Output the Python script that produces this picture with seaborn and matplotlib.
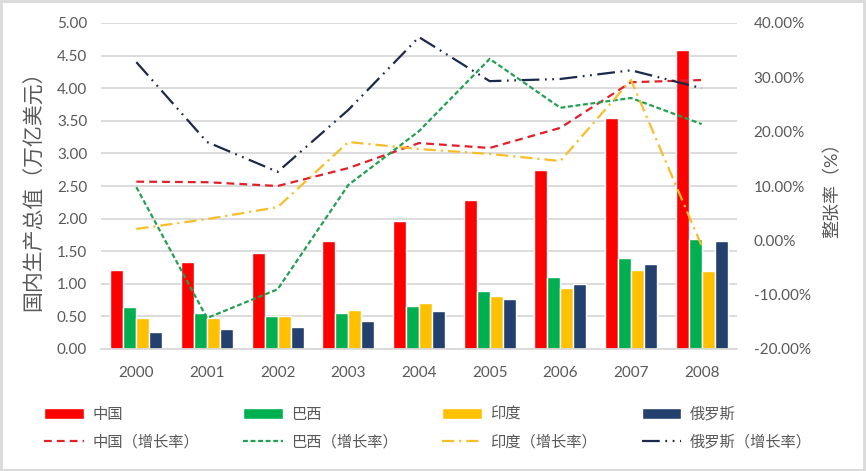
import numpy as np
import pandas as pd
import matplotlib
matplotlib.use("Agg")
import matplotlib.pyplot as plt
import seaborn as sns
from matplotlib.patches import Patch, Rectangle
from matplotlib.lines import Line2D
from matplotlib.ticker import FuncFormatter, MultipleLocator

years = ["2000", "2001", "2002", "2003", "2004", "2005", "2006", "2007", "2008"]
countries = ["中国", "巴西", "印度", "俄罗斯"]
gdp_china = [1.21, 1.34, 1.47, 1.66, 1.96, 2.29, 2.75, 3.55, 4.59]
gdp_brazil = [0.64, 0.55, 0.51, 0.55, 0.66, 0.89, 1.11, 1.40, 1.69]
gdp_india = [0.47, 0.48, 0.51, 0.60, 0.71, 0.81, 0.94, 1.21, 1.20]
gdp_russia = [0.26, 0.31, 0.34, 0.43, 0.59, 0.76, 0.99, 1.30, 1.66]
growth_china = [10.8, 10.7, 10.0, 13.3, 17.9, 17.0, 20.7, 29.1, 29.5]
growth_brazil = [9.8, -14.3, -9.0, 10.2, 20.1, 33.4, 24.4, 26.2, 21.4]
growth_india = [2.1, 3.9, 6.1, 18.1, 16.8, 15.9, 14.6, 29.5, -1.0]
growth_russia = [32.8, 18.1, 12.6, 24.0, 37.4, 29.3, 29.7, 31.3, 28.0]
growth_labels = ["中国（增长率）", "巴西（增长率）", "印度（增长率）", "俄罗斯（增长率）"]

bar_colors = ["#FF0000", "#00B050", "#FFC000", "#24406E"]
line_colors = ["#E0202A", "#22A052", "#F7BE2A", "#1B2A4A"]
line_dashes = [(0, (3.5, 2.3)), (0, (2.2, 1.2)), (0, (5.5, 2.2, 1, 2.2)),
               (0, (8, 2.5, 0.8, 2.5, 0.8, 2.5))]

gdp = [gdp_china, gdp_brazil, gdp_india, gdp_russia]
growth = [growth_china, growth_brazil, growth_india, growth_russia]

df = pd.DataFrame({
    "year": np.repeat([years], 4, axis=0).ravel(),
    "country": np.repeat(countries, len(years)),
    "value": np.concatenate(gdp),
})

sns.set_theme(style="white")
plt.rcParams["font.family"] = ["Lato", "Noto Sans CJK SC", "DejaVu Sans"]
gray = "#595959"

fig = plt.figure(figsize=(8.66, 4.71), dpi=100)
ax = fig.add_axes([101 / 866, 1 - 349 / 471, 636 / 866, 326 / 471])

sns.barplot(data=df, x="year", y="value", hue="country", hue_order=countries,
            palette=bar_colors, saturation=1, width=0.74, ax=ax, legend=False,
            errorbar=None)

ax2 = ax.twinx()
xpos = np.arange(len(years))
for g, c, d in zip(growth, line_colors, line_dashes):
    sns.lineplot(x=xpos, y=g, ax=ax2, color=c, linestyle=d, linewidth=1.6)

ax.set_xlim(-0.5, 8.5)
ax2.set_xlim(-0.5, 8.5)
ax.set_ylim(0, 5)
ax2.set_ylim(-20, 40)
ax.yaxis.set_major_locator(MultipleLocator(0.5))
ax2.yaxis.set_major_locator(MultipleLocator(10))
ax.yaxis.set_major_formatter(FuncFormatter(lambda v, p: f"{v:.2f}"))
ax2.yaxis.set_major_formatter(FuncFormatter(lambda v, p: f"{v:.2f}%"))

ax.grid(axis="y", color="#D9D9D9", linewidth=1.3)
ax.set_axisbelow(True)
for a in (ax, ax2):
    for s in a.spines.values():
        s.set_visible(False)
ax.spines["bottom"].set_visible(True)
ax.spines["bottom"].set_color("#D9D9D9")
ax.spines["bottom"].set_linewidth(1.3)

ax.tick_params(axis="y", labelsize=11, colors=gray, length=0, pad=10)
ax.tick_params(axis="x", labelsize=11, colors=gray, length=0, pad=12)
ax2.tick_params(axis="y", labelsize=11, colors=gray, length=0, pad=12)

ax.set_xlabel("")
ax.set_ylabel("国内生产总值（万亿美元）", fontsize=15, color=gray, labelpad=9)
ax2.set_ylabel("整张率（%）", fontsize=13, color=gray, labelpad=9)

handles, labels = [], []
for i in range(4):
    handles.append(Patch(facecolor=bar_colors[i]))
    labels.append(countries[i])
    handles.append(Line2D([], [], color=line_colors[i], linestyle=line_dashes[i], linewidth=1.6))
    labels.append(growth_labels[i])
fig.legend(handles, labels, ncol=4, loc="upper left", bbox_to_anchor=(44 / 866, 1 - 407 / 471),
           frameon=False, fontsize=11, labelcolor=gray, handlelength=2.6, handleheight=0.8,
           handletextpad=0.55, columnspacing=2.9, labelspacing=0.88, borderpad=0,
           borderaxespad=0)

fig.add_artist(Rectangle((0.001, 0.002), 0.997, 0.995, transform=fig.transFigure,
                         fill=False, edgecolor="#D9D9D9", linewidth=2))

fig.savefig("out.png", dpi=100)
